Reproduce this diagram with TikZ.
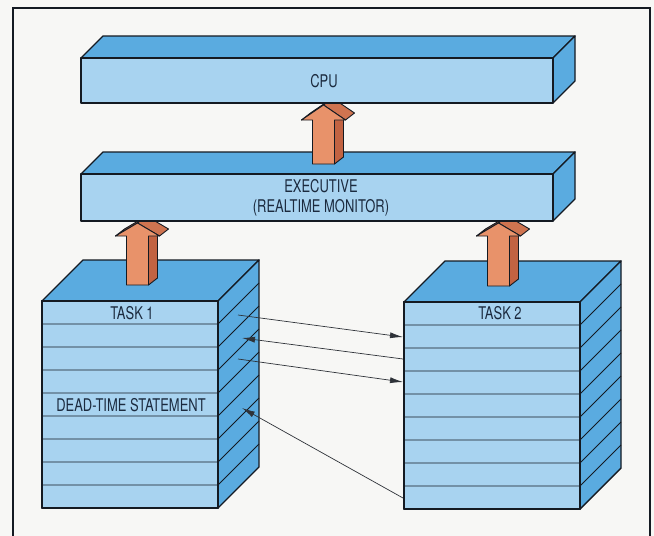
\documentclass[tikz,border=0pt]{standalone}
\usepackage{fontspec}
\setmainfont{TeX Gyre Heros}[FakeStretch=0.74]
\usetikzlibrary{arrows.meta}
\definecolor{bg}{HTML}{F7F7F5}
\definecolor{edge}{HTML}{141A22}
\definecolor{frontblue}{HTML}{A8D3F0}
\definecolor{topblue}{HTML}{5AABE0}
\definecolor{arrfront}{HTML}{E8926A}
\definecolor{arrside}{HTML}{C26342}
\definecolor{arrtop}{HTML}{CF7450}
\definecolor{txt}{HTML}{1B2A3E}
\definecolor{conn}{HTML}{2E3238}
\tikzset{
  outl/.style={draw=edge,line width=1.4pt,line join=round},
  rowline/.style={draw=edge,line width=0.8pt},
  arrpart/.style={draw=edge,line width=0.9pt,line join=round},
  lbl/.style={text=txt,font=\fontsize{17.5}{20}\selectfont,align=center,inner sep=0pt},
  msg/.style={draw=conn,line width=0.7pt,-{Latex[length=13pt,width=6pt]}},
}
\newcommand\blockarrow[4]{%
  \fill[arrside,arrpart] ({#1+11},#4) -- ({#1+11},#3) -- ({#1+20},{#3-7}) -- ({#1+20},{#4-7}) -- cycle;
  \fill[arrtop,arrpart] ({#1-22},#3) -- (#1,#2) -- ({#1+9},{#2-7}) -- ({#1-13},{#3-7}) -- cycle;
  \fill[arrtop,arrpart] (#1,#2) -- ({#1+22},#3) -- ({#1+31},{#3-7}) -- ({#1+9},{#2-7}) -- cycle;
  \fill[arrfront,arrpart] ({#1-11},#4) -- ({#1-11},#3) -- ({#1-22},#3) -- (#1,#2) -- ({#1+22},#3) -- ({#1+11},#3) -- ({#1+11},#4) -- cycle;
}
\newcommand\taskstack[2]{%
  \fill[topblue,outl] (#1,#2) -- ({#1+41},{#2-41}) -- ({#1+217},{#2-41}) -- ({#1+176},#2) -- cycle;
  \fill[topblue,outl] ({#1+176},#2) -- ({#1+217},{#2-41}) -- ({#1+217},{#2+166}) -- ({#1+176},{#2+207}) -- cycle;
  \fill[frontblue,outl] (#1,#2) rectangle ({#1+176},{#2+207});
  \foreach \i in {1,...,8}{
    \draw[rowline] (#1,{#2+\i*23}) -- ({#1+176},{#2+\i*23}) -- ({#1+217},{#2+\i*23-41});
  }
  \draw[outl] (#1,#2) rectangle ({#1+176},{#2+207});
}
\newcommand\hbarbox[3]{%
  \fill[topblue,outl] (#1,#2) -- ({#1+22},{#2-22}) -- ({#1+494},{#2-22}) -- ({#1+472},#2) -- cycle;
  \fill[topblue,outl] ({#1+472},#2) -- ({#1+494},{#2-22}) -- ({#1+494},{#3-22}) -- ({#1+472},#3) -- cycle;
  \fill[frontblue,outl] (#1,#2) rectangle ({#1+472},#3);
}
\begin{document}
\begin{tikzpicture}[x=1pt,y=-1pt]
\useasboundingbox (0,0) rectangle (654,536);
\fill[bg] (0,0) rectangle (654,536);
\draw[draw=edge,line width=1.1pt] (13,536) -- (13,8) -- (650,8) -- (650,536);

% task stacks
\taskstack{42}{301}
\taskstack{404}{302}
\node[lbl] (t1) at (132,313) {TASK 1};
\node[lbl] (dead) at (131,405) {DEAD-TIME STATEMENT};
\node[lbl] (t2) at (500,313) {TASK 2};

% arrows from tasks to executive
\blockarrow{137.5}{223}{236}{285}
\blockarrow{498.5}{223}{236}{286}

% executive bar
\hbarbox{81}{174}{221}
\node[lbl] (exec) at (321,198) {EXECUTIVE\\[0pt](REALTIME MONITOR)};

% arrow from executive to CPU
\blockarrow{323.5}{105}{120}{164}

% CPU bar
\hbarbox{81}{58}{103}
\node[lbl] (cpu) at (324,81) {CPU};

% messages between tasks
\coordinate (a1s) at (238,315);
\coordinate (a1e) at (403,337);
\coordinate (a2s) at (403,359);
\coordinate (a2e) at (242,338);
\coordinate (a3s) at (238,359);
\coordinate (a3e) at (403,382);
\coordinate (a4s) at (403,498);
\coordinate (a4e) at (242,408);
\draw[msg] (a1s) -- (a1e);
\draw[msg] (a2s) -- (a2e);
\draw[msg] (a3s) -- (a3e);
\draw[msg] (a4s) -- (a4e);
\end{tikzpicture}
\end{document}
